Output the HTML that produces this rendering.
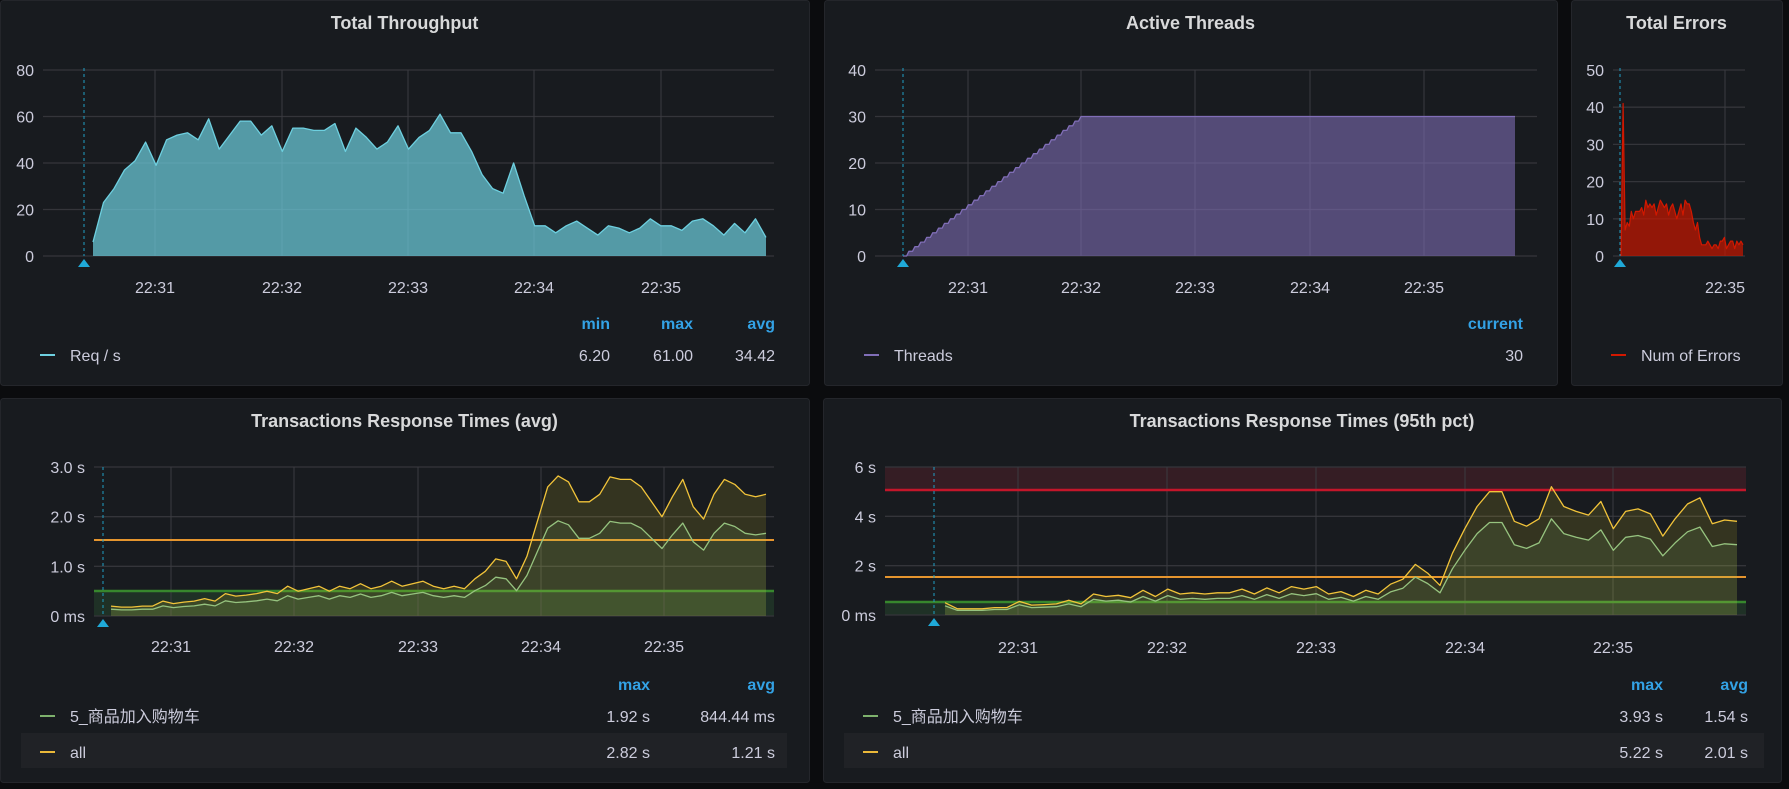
<!DOCTYPE html>
<html><head><meta charset="utf-8"><style>
html,body{margin:0;padding:0;background:#0b0c0e;width:1789px;height:789px;overflow:hidden}
svg{display:block;font-family:"Liberation Sans","Noto Sans CJK SC",sans-serif}
</style></head><body>
<svg id="s" width="1789" height="789" xmlns="http://www.w3.org/2000/svg"></svg>
<script>
const S=document.getElementById('s');let h='';
function rect(x,y,w,hh,f,extra){h+=`<rect x="${x}" y="${y}" width="${w}" height="${hh}" fill="${f}" ${extra||''}/>`}
function line(x1,y1,x2,y2,c,w,extra){h+=`<line x1="${x1}" y1="${y1}" x2="${x2}" y2="${y2}" stroke="${c}" stroke-width="${w||1}" ${extra||''}/>`}
function text(x,y,t,o){o=o||{};h+=`<text x="${x}" y="${y}" fill="${o.c||'#ccccdc'}" font-size="${o.s||15}" text-anchor="${o.a||'start'}" font-weight="${o.w||'normal'}">${t}</text>`}
function panel(x,y,w,hh,title){rect(x+0.5,y+0.5,w,hh,'#181b1f','rx="3" stroke="#24262b"');text(x+w/2,y+29,title,{s:18,a:'middle',w:'bold',c:'#d8d9da'})}
function grid(x0,x1,ys,labels,xs,xl,top,bot,ty){
 ys.forEach((y,i)=>{line(x0,y,x1,y,'#34353a',1.3);text(x0-9,y+6,labels[i],{a:'end',s:16})});
 xs.forEach((x,i)=>{line(x,top,x,bot,'#3a3b40',1);text(x,ty,xl[i],{a:'middle',s:16})});
}
function series(vals,x0,x1,y0,scale){const st=(x1-x0)/(vals.length-1);return vals.map((v,i)=>[x0+i*st,y0-v*scale])}
function area(pts,y0,fill,stroke,sw){let d='M'+pts[0][0]+','+y0+' '+pts.map(p=>'L'+p[0].toFixed(1)+','+p[1].toFixed(1)).join(' ')+' L'+pts[pts.length-1][0]+','+y0+'Z';
 h+=`<path d="${d}" fill="${fill}"/>`;h+=`<path d="M${pts.map(p=>p[0].toFixed(1)+','+p[1].toFixed(1)).join(' L')}" fill="none" stroke="${stroke}" stroke-width="${sw||1.3}" stroke-linejoin="round"/>`}
function marker(x,top,bot){line(x,top,x,bot,'#1f9fc4',1,'stroke-dasharray="3,3"');h+=`<polygon points="${x-6},${bot+11} ${x+6},${bot+11} ${x},${bot+3}" fill="#1fa9d8"/>`}
const xl=['22:31','22:32','22:33','22:34','22:35'];
// Panel 1
panel(0,0,809,385,'Total Throughput');
grid(43,774,[70,116.5,163,209.5,256],['80','60','40','20','0'],[155,282,408,534,661],xl,70,256,293);
const tp=[6,23,29,37,41,49,39,50,52,53,50,59,46,52,58,58,52,56,45,55,55,54,54,57,45,55,51,46,49,56,46,51,54,61,53,53,45,35,29,27,40,26,13,13,10,13,15,12,9,13,12,10,12,16,13,13,11,15,16,13,9,14,10,16,8];
area(series(tp,93,766,256,186/80),256,'rgba(110,208,224,0.7)','#6ed0e0');
marker(84,68,256);
text(610,329,'min',{a:'end',c:'#33a2e5',w:'bold',s:16});text(693,329,'max',{a:'end',c:'#33a2e5',w:'bold',s:16});text(775,329,'avg',{a:'end',c:'#33a2e5',w:'bold',s:16});
line(40,355,55,355,'#6ed0e0',2);text(70,361,'Req / s',{s:16});
text(610,361,'6.20',{a:'end',s:16});text(693,361,'61.00',{a:'end',s:16});text(775,361,'34.42',{a:'end',s:16});
// Panel 2
panel(824,0,733,385,'Active Threads');
grid(875,1537,[70,116.5,163,209.5,256],['40','30','20','10','0'],[968,1081,1195,1310,1424],xl,70,256,293);
const tpts=[];const sc=186/40;
for(let i=0;i<=30;i++){const x=903+i*(178/30);const v=i;tpts.push([x,256-v*sc]);if(i<30)tpts.push([x+178/30*0.6,256-v*sc])}
tpts.push([1515,256-30*sc]);
area(tpts,256,'rgba(128,110,183,0.58)','#806eb7');
marker(903,68,256);
text(1523,329,'current',{a:'end',c:'#33a2e5',w:'bold',s:16});
line(864,355,879,355,'#806eb7',2);text(894,361,'Threads',{s:16});text(1523,361,'30',{a:'end',s:16});
// Panel 3
panel(1571,0,211,385,'Total Errors');
grid(1613,1745,[70,107.2,144.4,181.6,218.8,256],['50','40','30','20','10','0'],[1725],['22:35'],70,256,293);
let er=[0,41,7,9,8,12,10,12,12,12,13,11,15,13,14,13,14,11,13,15,14,13,14,11,13,14,12,10,12,14,11,15,14,14,12,9,7,9,5,3,3,3,4,3,2,3,3,2,4,4,5,2,3,4,4,2,4,3,4,3];
area(series(er,1621,1743,256,186/50),256,'rgba(196,22,0,0.72)','#d21800',1.2);
marker(1620,68,256);
line(1611,355,1626,355,'#d21800',2);text(1641,361,'Num of Errors',{s:16});
// Bottom left
panel(0,398,809,384,'Transactions Response Times (avg)');
rect(94,591,680,25,'rgba(50,116,60,0.25)');
grid(94,774,[467,516.7,566.3,616],['3.0 s','2.0 s','1.0 s','0 ms'],[171,294,418,541,664],xl,467,616,652);
line(94,540,774,540,'#e5952e',2);line(94,591,774,591,'#37872d',2.5);
const aa=[0.2,0.18,0.18,0.2,0.2,0.3,0.25,0.28,0.3,0.35,0.3,0.45,0.4,0.42,0.45,0.5,0.45,0.6,0.5,0.55,0.6,0.5,0.6,0.55,0.65,0.55,0.6,0.7,0.6,0.65,0.7,0.6,0.55,0.6,0.55,0.75,0.9,1.15,1.1,0.75,1.2,1.9,2.6,2.82,2.7,2.3,2.3,2.45,2.8,2.75,2.75,2.6,2.3,2.0,2.4,2.75,2.2,1.95,2.45,2.75,2.65,2.45,2.4,2.45];
const sA=149/3;
area(series(aa,111,766,616,sA),616,'rgba(250,222,42,0.13)','#f2c43a');
area(series(aa.map(v=>v*0.68),111,766,616,sA),616,'rgba(126,178,109,0.12)','#96c37f');
marker(103,467,616);
text(650,690,'max',{a:'end',c:'#33a2e5',w:'bold',s:16});text(775,690,'avg',{a:'end',c:'#33a2e5',w:'bold',s:16});
rect(21,733,766,35,'#202226');
line(40,716,55,716,'#7eb26d',2);text(70,722,'5_商品加入购物车',{s:16});text(650,722,'1.92 s',{a:'end',s:16});text(775,722,'844.44 ms',{a:'end',s:16});
line(40,752,55,752,'#eab839',2);text(70,758,'all',{s:16});text(650,758,'2.82 s',{a:'end',s:16});text(775,758,'1.21 s',{a:'end',s:16});
// Bottom right
panel(823,398,958,384,'Transactions Response Times (95th pct)');
rect(885,467,861,23,'rgba(224,47,68,0.15)');rect(885,602,861,13,'rgba(50,116,60,0.25)');
grid(885,1746,[467,516.3,565.7,615],['6 s','4 s','2 s','0 ms'],[1018,1167,1316,1465,1613],xl,467,615,653);
line(885,490,1746,490,'#c4162a',2.5);line(885,577,1746,577,'#e5952e',2);line(885,602,1746,602,'#37872d',2.5);
const pa=[0.5,0.25,0.25,0.25,0.3,0.3,0.55,0.4,0.42,0.45,0.6,0.45,0.85,0.75,0.8,0.7,1.0,0.75,1.05,0.85,0.9,0.85,0.9,0.9,1.05,0.85,1.1,0.9,1.15,1.05,1.15,0.85,0.95,0.75,1.0,0.85,1.25,1.45,2.05,1.7,1.2,2.5,3.5,4.4,5.0,5.0,3.8,3.6,3.9,5.2,4.4,4.2,4.05,4.6,3.5,4.2,4.3,4.1,3.2,3.9,4.5,4.75,3.7,3.85,3.8];
const sB=148/6;
area(series(pa,945,1737,615,sB),615,'rgba(250,222,42,0.13)','#f2c43a');
area(series(pa.map(v=>v*0.75),945,1737,615,sB),615,'rgba(126,178,109,0.12)','#96c37f');
marker(934,467,615);
text(1663,690,'max',{a:'end',c:'#33a2e5',w:'bold',s:16});text(1748,690,'avg',{a:'end',c:'#33a2e5',w:'bold',s:16});
rect(844,733,920,35,'#202226');
line(863,716,878,716,'#7eb26d',2);text(893,722,'5_商品加入购物车',{s:16});text(1663,722,'3.93 s',{a:'end',s:16});text(1748,722,'1.54 s',{a:'end',s:16});
line(863,752,878,752,'#eab839',2);text(893,758,'all',{s:16});text(1663,758,'5.22 s',{a:'end',s:16});text(1748,758,'2.01 s',{a:'end',s:16});
S.innerHTML=h;
</script>
</body></html>
